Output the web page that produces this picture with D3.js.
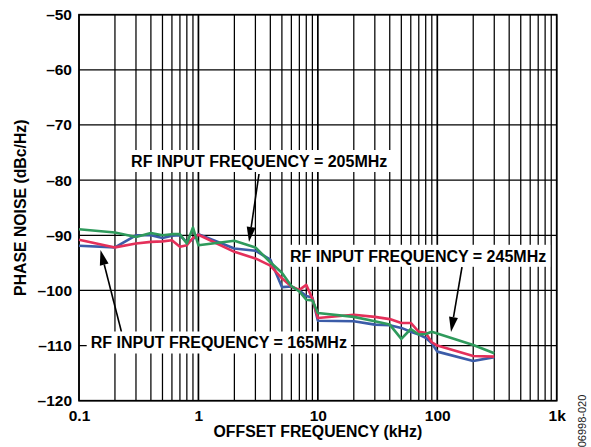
<!DOCTYPE html>
<html>
<head>
<meta charset="utf-8">
<script src="https://cdn.jsdelivr.net/npm/d3@7"></script>
<style>
  html, body { margin: 0; padding: 0; background: #fff; }
  svg { display: block; }
</style>
</head>
<body>
<div id="chart"></div>
<script>
// Phase noise vs offset frequency, three RF input frequencies
var freqs = [0.1, 0.2, 0.3, 0.4, 0.5, 0.6, 0.7, 0.8, 0.9, 1,
             2, 3, 4, 5, 6, 7, 8, 9, 10,
             20, 30, 40, 50, 60, 70, 80, 90, 100, 200, 300];

var noise165 = [-91.9, -92.2, -90.0, -90.0, -90.5, -90.1, -90.0, -91.3, -90.7, -89.8,
                -92.4, -92.8, -94.4, -99.4, -99.3, -100.0, -101.0, -101.3, -105.5,
                -105.6, -106.2, -106.3, -106.8, -107.5, -108.0, -108.6, -109.6, -111.1, -112.8, -112.1];

var noise205 = [-90.8, -92.2, -91.5, -91.2, -91.1, -90.9, -92.1, -91.8, -90.5, -89.9,
                -93.0, -94.2, -95.5, -97.8, -99.3, -99.9, -99.0, -101.5, -105.0,
                -104.4, -104.8, -105.2, -105.9, -105.9, -107.5, -107.7, -109.4, -110.0, -111.9, -112.0];

var noise245 = [-88.9, -89.5, -90.3, -89.6, -90.0, -89.8, -89.8, -91.5, -88.6, -91.8,
                -91.0, -92.2, -94.9, -96.8, -99.2, -100.2, -101.7, -101.8, -104.1,
                -104.8, -105.6, -106.2, -108.8, -107.0, -108.0, -107.9, -107.5, -107.8, -109.9, -111.4];

var yTicks = [-120, -110, -100, -90, -80, -70, -60, -50];
var xTickValues = [0.1, 1, 10, 100, 1000];
var xTickLabels = ["0.1", "1", "10", "100", "1k"];

var series = [
    { name: "165MHz", values: noise165, color: "#3b5ca8" },
    { name: "205MHz", values: noise205, color: "#e4305a" },
    { name: "245MHz", values: noise245, color: "#2f9a5c" }
];

var totalW = 591, totalH = 447;
var margin = { top: 14.7, right: 34.3, bottom: 46.3, left: 79 };
var width  = totalW - margin.left - margin.right;
var height = totalH - margin.top - margin.bottom;
var FONT = "'Liberation Sans', Arial, Helvetica, sans-serif";

var svg = d3.select("#chart").append("svg")
    .attr("width", totalW)
    .attr("height", totalH);

var g = svg.append("g")
    .attr("transform", "translate(" + margin.left + "," + margin.top + ")");

var x = d3.scaleLog().domain([0.1, 1000]).range([0, width]);
var y = d3.scaleLinear().domain([-120, -50]).range([height, 0]);

// --- Grid ---
var gridX = [];
[0.1, 1, 10, 100].forEach(function(dec) {
    for (var k = 1; k <= 9; k++) gridX.push(+(k * dec).toPrecision(3));
});
gridX.push(1000);

g.append("g").selectAll("line.vx")
    .data(gridX)
    .enter().append("line")
    .attr("x1", function(d) { return x(d); })
    .attr("x2", function(d) { return x(d); })
    .attr("y1", 0).attr("y2", height)
    .attr("stroke", "#000")
    .attr("stroke-width", function(d) { return [1, 10, 100].indexOf(d) >= 0 ? 1.7 : 1.25; });

g.append("g").selectAll("line.hy")
    .data(yTicks)
    .enter().append("line")
    .attr("x1", 0).attr("x2", width)
    .attr("y1", function(d) { return y(d); })
    .attr("y2", function(d) { return y(d); })
    .attr("stroke", "#000")
    .attr("stroke-width", 1.25);

g.append("rect")
    .attr("width", width).attr("height", height)
    .attr("fill", "none")
    .attr("stroke", "#000")
    .attr("stroke-width", 1.7);

// --- Axes labels ---
var yAxis = d3.axisLeft(y).tickValues(yTicks).tickSize(0).tickPadding(7)
    .tickFormat(function(d) { return d < 0 ? "\u2013" + Math.abs(d) : d; });
var yg = g.append("g").call(yAxis);
yg.select(".domain").remove();
yg.selectAll("text")
    .style("font-family", FONT).style("font-size", "15.5px").style("font-weight", "bold")
    .attr("fill", "#000");

var xAxis = d3.axisBottom(x).tickValues(xTickValues).tickSize(0).tickPadding(9)
    .tickFormat(function(d, i) { return xTickLabels[i]; });
var xg = g.append("g").attr("transform", "translate(0," + height + ")").call(xAxis);
xg.select(".domain").remove();
xg.selectAll("text")
    .style("font-family", FONT).style("font-size", "15.5px").style("font-weight", "bold")
    .attr("fill", "#000");

svg.append("text")
    .attr("transform", "translate(" + 26 + "," + (margin.top + height / 2) + ") rotate(-90)")
    .attr("text-anchor", "middle")
    .style("font-family", FONT).style("font-size", "15.8px").style("font-weight", "bold")
    .text("PHASE NOISE (dBc/Hz)");

svg.append("text")
    .attr("x", margin.left + width / 2)
    .attr("y", 437)
    .attr("text-anchor", "middle")
    .style("font-family", FONT).style("font-size", "15.8px").style("font-weight", "bold")
    .text("OFFSET FREQUENCY (kHz)");

// --- Lines ---
var lineGen = d3.line()
    .x(function(d, i) { return x(freqs[i]); })
    .y(function(d) { return y(d); });

series.forEach(function(s) {
    g.append("path")
        .datum(s.values)
        .attr("fill", "none")
        .attr("stroke", s.color)
        .attr("stroke-width", 2.6)
        .attr("stroke-linejoin", "round")
        .attr("d", lineGen);
});

// --- Annotations ---
function arrow(x1, y1, x2, y2) {
    var ang = Math.atan2(y2 - y1, x2 - x1);
    var len = 15, half = 4.5;
    var bx = x2 - len * Math.cos(ang), by = y2 - len * Math.sin(ang);
    svg.append("line")
        .attr("x1", x1).attr("y1", y1).attr("x2", bx).attr("y2", by)
        .attr("stroke", "#000").attr("stroke-width", 1.6);
    svg.append("polygon")
        .attr("points", [
            [x2, y2],
            [bx + half * Math.sin(ang), by - half * Math.cos(ang)],
            [bx - half * Math.sin(ang), by + half * Math.cos(ang)]
        ].map(function(p) { return p.join(","); }).join(" "))
        .attr("fill", "#000");
}

function label(txt, xPos, yMid, anchor) {
    var grp = svg.append("g");
    var bg = grp.append("rect").attr("fill", "#fff");
    var t = grp.append("text")
        .attr("x", xPos).attr("y", yMid)
        .attr("dy", "0.36em")
        .attr("text-anchor", anchor)
        .style("font-family", FONT).style("font-size", "16px").style("font-weight", "bold")
        .text(txt);
    var bb = t.node().getBBox();
    bg.attr("x", bb.x - 4).attr("y", yMid - 11)
      .attr("width", bb.width + 8).attr("height", 22);
}

arrow(259, 174, 249, 242);
arrow(121.5, 332, 100.5, 250);
arrow(462, 267, 451, 332);

label("RF INPUT FREQUENCY = 205MHz", 259.2, 161, "middle");
label("RF INPUT FREQUENCY = 165MHz", 90.7, 342.5, "start");
label("RF INPUT FREQUENCY = 245MHz", 290, 255.8, "start");

// Figure code
svg.append("text")
    .attr("transform", "translate(586,421) rotate(-90)")
    .attr("text-anchor", "middle")
    .style("font-family", FONT).style("font-size", "11px")
    .attr("fill", "#222")
    .text("06998-020");
</script>
</body>
</html>
